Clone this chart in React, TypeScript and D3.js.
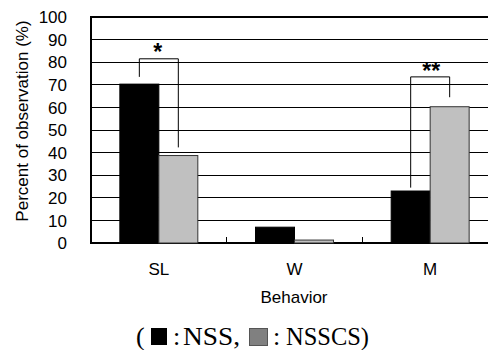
import React from "react";
import * as d3 from "d3";

const categories = ["SL", "W", "M"];
const nss = [70.3, 7, 23];
const nsscs = [38.7, 1.3, 60.3];
const yTicks = [0, 10, 20, 30, 40, 50, 60, 70, 80, 90, 100];

const W = 488;
const H = 350;
const margin = { top: 17, right: -10, bottom: 107, left: 91 };

export default function App() {
  const x = d3
    .scaleBand()
    .domain(categories)
    .range([margin.left, W - margin.right])
    .paddingInner(0)
    .paddingOuter(0);

  const inner = d3
    .scaleBand()
    .domain(["nss", "nsscs"])
    .range([0, x.bandwidth()])
    .paddingInner(0)
    .paddingOuter(0.74);

  const y = d3
    .scaleLinear()
    .domain([0, 100])
    .range([H - margin.bottom, margin.top]);

  const x0 = margin.left;
  const x1 = W - margin.right;
  const bw = inner.bandwidth();
  const sans = "Liberation Sans, Arial, Helvetica, sans-serif";
  const serif = "Liberation Serif, Times New Roman, serif";

  // bracket: black bar center -> gray bar center
  const bracket = (i: number, topVal: number, leftEnd: number, rightEnd: number) => {
    const cat = categories[i];
    const lx = (x(cat) as number) + (inner("nss") as number) + bw / 2;
    const rx = (x(cat) as number) + (inner("nsscs") as number) + bw / 2;
    return `M${lx},${y(leftEnd)}V${y(topVal)}H${rx}V${y(rightEnd)}`;
  };

  return (
    <svg
      width={W}
      height={H}
      style={{ position: "absolute", left: 0, top: 0, background: "#fff" }}
    >
      {/* gridlines */}
      {yTicks
        .filter((t) => t > 0 && t < 100)
        .map((t) => (
          <line
            key={t}
            x1={x0}
            x2={x1}
            y1={y(t)}
            y2={y(t)}
            stroke="#000"
            strokeWidth={1}
            shapeRendering="crispEdges"
          />
        ))}
      {/* frame */}
      <path
        d={`M${x1},${y(100)}H${x0}V${y(0)}H${x1}`}
        fill="none"
        stroke="#000"
        strokeWidth={1.2}
        shapeRendering="crispEdges"
      />
      {/* category ticks */}
      {categories.slice(1).map((c) => (
        <line
          key={c}
          x1={x(c)}
          x2={x(c)}
          y1={y(0)}
          y2={y(0) - 6}
          stroke="#000"
          shapeRendering="crispEdges"
        />
      ))}
      {/* bars */}
      {categories.map((c, i) => (
        <g key={c}>
          <rect
            x={(x(c) as number) + (inner("nss") as number)}
            y={y(nss[i])}
            width={bw}
            height={y(0) - y(nss[i])}
            fill="#000"
            stroke="#000"
            strokeWidth={1}
          />
          <rect
            x={(x(c) as number) + (inner("nsscs") as number)}
            y={y(nsscs[i])}
            width={bw}
            height={y(0) - y(nsscs[i])}
            fill="#c0c0c0"
            stroke="#333"
            strokeWidth={1}
          />
        </g>
      ))}
      {/* significance brackets */}
      <path d={bracket(0, 81.5, 73.5, 42.3)} fill="none" stroke="#000" strokeWidth={1} />
      <text
        x={(x("SL") as number) + x.bandwidth() / 2 - 1}
        y={y(81)}
        textAnchor="middle"
        fontFamily={sans}
        fontSize={23}
        fontWeight="bold"
      >
        *
      </text>
      <path d={bracket(2, 73.5, 24.5, 64.5)} fill="none" stroke="#000" strokeWidth={1} />
      <text
        x={(x("M") as number) + x.bandwidth() / 2 + 1}
        y={y(72.5)}
        textAnchor="middle"
        fontFamily={sans}
        fontSize={23}
        fontWeight="bold"
      >
        **
      </text>
      {/* y tick labels */}
      {yTicks.map((t) => (
        <text
          key={t}
          x={67}
          y={y(t)}
          dy="0.36em"
          textAnchor="end"
          fontFamily={sans}
          fontSize={17}
        >
          {t}
        </text>
      ))}
      {/* x labels */}
      {categories.map((c) => (
        <text
          key={c}
          x={(x(c) as number) + x.bandwidth() / 2}
          y={275}
          textAnchor="middle"
          fontFamily={sans}
          fontSize={17}
        >
          {c}
        </text>
      ))}
      <text x={294} y={303} textAnchor="middle" fontFamily={sans} fontSize={17}>
        Behavior
      </text>
      <text
        transform="translate(28,121) rotate(-90)"
        textAnchor="middle"
        fontFamily={sans}
        fontSize={17}
      >
        Percent of observation (%)
      </text>
      {/* legend */}
      <g fontFamily={serif} fontSize={26}>
        <text x={136} y={345}>(</text>
        <rect x={151} y={328} width={16} height={17} fill="#000" />
        <text x={173} y={345}>:</text>
        <text x={183} y={345} textLength={57} lengthAdjust="spacingAndGlyphs">
          NSS,
        </text>
        <rect x={249.5} y={328.5} width={18} height={17} fill="#808080" stroke="#555" />
        <text x={273} y={345}>:</text>
        <text x={286} y={345} textLength={83} lengthAdjust="spacingAndGlyphs">
          NSSCS)
        </text>
      </g>
    </svg>
  );
}
